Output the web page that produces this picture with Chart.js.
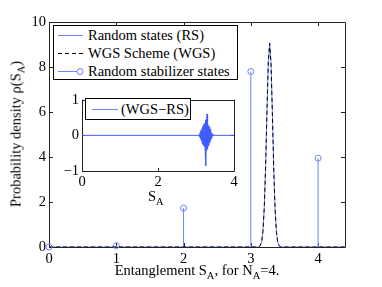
<!DOCTYPE html>
<html><head><meta charset="utf-8">
<script src="https://cdn.jsdelivr.net/npm/chart.js@4.4.0/dist/chart.umd.min.js"></script>
<style>
html,body{margin:0;padding:0;background:#fff;}
#wrap{position:relative;width:382px;height:287px;font-family:"Liberation Serif","Times New Roman",serif;color:#000;overflow:hidden;}
canvas{position:absolute;}
.t{position:absolute;white-space:nowrap;font-size:14.5px;line-height:15px;}
.t sub{font-size:10.5px;vertical-align:-4px;line-height:0;}
.box{position:absolute;border:1px solid #000;background:#fff;box-sizing:border-box;}
</style></head><body>
<div id="wrap">
<canvas id="main" width="382" height="287" style="left:0;top:0;width:382px;height:287px"></canvas>
<canvas id="inset" width="190" height="118" style="left:55px;top:88px;width:190px;height:118px"></canvas>

<div class="box" style="left:53px;top:25px;width:185px;height:55px;">
  <svg width="40" height="53" style="position:absolute;left:0;top:0">
    <line x1="4" y1="9.5" x2="29" y2="9.5" stroke="#6f84ff" stroke-width="1"/>
    <line x1="4" y1="27.5" x2="29" y2="27.5" stroke="#000" stroke-width="1" stroke-dasharray="4,3"/>
    <line x1="4" y1="45.5" x2="23" y2="45.5" stroke="#6f84ff" stroke-width="1"/>
    <circle cx="26" cy="45.5" r="3" fill="none" stroke="#6f84ff" stroke-width="1"/>
  </svg>
  <div class="t" style="left:34px;top:2px;">Random states (RS)</div>
  <div class="t" style="left:34px;top:20px;">WGS Scheme (WGS)</div>
  <div class="t" style="left:34px;top:38px;">Random stabilizer states</div>
</div>

<div class="box" style="left:85px;top:98px;width:106px;height:22px;">
  <svg width="40" height="20" style="position:absolute;left:0;top:0">
    <line x1="6" y1="10.5" x2="32" y2="10.5" stroke="#6f84ff" stroke-width="1"/>
  </svg>
  <div class="t" style="left:35px;top:3px;">(WGS−RS)</div>
</div>

<div class="t" style="left:148px;top:189px;">S<sub>A</sub></div>
<div class="t" id="xt" style="left:197px;top:263px;transform:translateX(-50%);">Entanglement S<sub>A</sub>, for N<sub>A</sub>=4.</div>
<div class="t" id="yt" style="left:16px;top:134px;transform:translate(-50%,-50%) rotate(-90deg);">Probability density ρ(S<sub>A</sub>)</div>
</div>

<script>
// ---- data ----
const stabX = [0, 1, 2, 3, 4];
const stabY = [0.0, 0.06, 1.73, 7.8, 3.95];

const curveX = [0, 3.08, 3.10, 3.12, 3.14, 3.16, 3.18, 3.20, 3.22, 3.24, 3.26, 3.28, 3.30, 3.32, 3.34, 3.36, 3.38, 3.40, 3.42, 3.44, 3.46, 3.48, 4.4];
const rsY    = [0, 0, 0.00, 0.01, 0.06, 0.22, 0.69, 1.74, 3.58, 6.01, 8.19, 9.08, 8.19, 6.01, 3.58, 1.74, 0.69, 0.22, 0.06, 0.01, 0.00, 0, 0];
const wgsY   = [0, 0, 0.00, 0.01, 0.06, 0.23, 0.70, 1.76, 3.60, 6.05, 8.22, 9.05, 8.15, 5.97, 3.55, 1.72, 0.68, 0.21, 0.06, 0.01, 0.00, 0, 0];

const diffX = [0, 3.08, 3.09, 3.10, 3.11, 3.12, 3.13, 3.14, 3.15, 3.16, 3.17, 3.18, 3.19, 3.20, 3.21, 3.22, 3.23, 3.24, 3.25, 3.26, 3.27, 3.28, 3.29, 3.30, 3.31, 3.32, 3.33, 3.34, 3.35, 3.36, 3.37, 3.38, 3.39, 3.40, 3.41, 3.42, 3.43, 3.44, 3.45, 3.46, 4];
const diffY = [0, 0.00, 0.03, -0.05, 0.08, -0.10, 0.13, -0.15, 0.18, -0.20, 0.23, -0.25, 0.27, -0.29, 0.31, -0.32, 0.34, -0.36, 0.42, -0.85, 0.45, -0.42, 0.60, -0.38, 0.33, -0.30, 0.28, -0.26, 0.23, -0.20, 0.17, -0.14, 0.12, -0.09, 0.07, -0.05, 0.03, -0.02, 0.01, 0.00, 0];

const mainXTicks = [0, 1, 2, 3, 4];
const mainYTicks = [0, 2, 4, 6, 8, 10];
const insetXTicks = [0, 2, 4];
const insetYTicks = [-1, 0, 1];

// ---- style ----
const BLUE = '#6f84ff';
const FONT = {family: '"Liberation Serif", "Times New Roman", serif', size: 14.5};
Chart.defaults.font = FONT;
Chart.defaults.color = '#000';

const zip = (xs, ys) => xs.map((x, i) => ({x, y: ys[i]}));

const framePlugin = {
  id: 'frame',
  beforeDatasetsDraw(chart, args, opts) {
    const {ctx, chartArea: a, scales} = chart;
    const L = opts.len || 4;
    ctx.save();
    ctx.strokeStyle = '#222';
    ctx.lineWidth = 1;
    ctx.beginPath();
    ctx.rect(Math.round(a.left) + 0.5, Math.round(a.top) + 0.5, Math.round(a.right - a.left), Math.round(a.bottom - a.top));
    scales.x.ticks.forEach(t => {
      const p = Math.round(scales.x.getPixelForValue(t.value)) + 0.5;
      ctx.moveTo(p, a.bottom); ctx.lineTo(p, a.bottom - L);
      ctx.moveTo(p, a.top); ctx.lineTo(p, a.top + L);
    });
    scales.y.ticks.forEach(t => {
      const p = Math.round(scales.y.getPixelForValue(t.value)) + 0.5;
      ctx.moveTo(a.left, p); ctx.lineTo(a.left + L, p);
      ctx.moveTo(a.right, p); ctx.lineTo(a.right - L, p);
    });
    ctx.stroke();
    ctx.restore();
  }
};

const whitePlugin = {
  id: 'whiteArea',
  beforeDraw(chart) {
    const {ctx, chartArea: a} = chart;
    ctx.save(); ctx.fillStyle = '#fff';
    ctx.fillRect(a.left, a.top, a.right - a.left, a.bottom - a.top);
    ctx.restore();
  }
};

const lineDs = (label, data, color, extra) => Object.assign({
  type: 'line', label, data, borderColor: color, backgroundColor: color,
  borderWidth: 1, pointRadius: 0, fill: false, tension: 0
}, extra || {});

const datasets = [
  lineDs('WGS Scheme (WGS)', zip(curveX, wgsY), '#000', {borderDash: [4, 3]}),
  lineDs('Random states (RS)', zip(curveX, rsY), BLUE),
  {type: 'scatter', label: 'Random stabilizer states', data: zip(stabX, stabY),
   pointRadius: 3, pointStyle: 'circle', borderColor: BLUE, backgroundColor: 'rgba(0,0,0,0)',
   borderWidth: 1, clip: false, showLine: false}
];
stabX.forEach((x, i) => datasets.push(lineDs('stem' + i, [{x, y: 0}, {x, y: stabY[i]}], BLUE)));

new Chart(document.getElementById('main'), {
  data: {datasets},
  plugins: [framePlugin],
  options: {
    responsive: false, animation: false, devicePixelRatio: 1,
    layout: {padding: {top: 22, right: 37, left: 0, bottom: 0}},
    plugins: {legend: {display: false}, tooltip: {enabled: false}, frame: {len: 4}},
    scales: {
      x: {type: 'linear', min: 0, max: 4.4,
          afterBuildTicks: s => { s.ticks = mainXTicks.map(v => ({value: v})); },
          ticks: {padding: 3, maxRotation: 0, autoSkip: false},
          grid: {display: false, drawTicks: false}, border: {display: false},
          afterFit: s => { s.height = 40; }},
      y: {type: 'linear', min: 0, max: 10,
          afterBuildTicks: s => { s.ticks = mainYTicks.map(v => ({value: v})); },
          ticks: {padding: 3, autoSkip: false},
          grid: {display: false, drawTicks: false}, border: {display: false},
          afterFit: s => { s.width = 49; }}
    }
  }
});

new Chart(document.getElementById('inset'), {
  data: {datasets: [lineDs('(WGS−RS)', zip(diffX, diffY), '#3f5cff')]},
  plugins: [whitePlugin, framePlugin],
  options: {
    responsive: false, animation: false, devicePixelRatio: 1,
    layout: {padding: {top: 7, right: 11, left: 0, bottom: 0}},
    plugins: {legend: {display: false}, tooltip: {enabled: false}, frame: {len: 3}},
    scales: {
      x: {type: 'linear', min: 0, max: 4,
          afterBuildTicks: s => { s.ticks = insetXTicks.map(v => ({value: v})); },
          ticks: {padding: 2, maxRotation: 0, autoSkip: false},
          grid: {display: false, drawTicks: false}, border: {display: false},
          afterFit: s => { s.height = 35; }},
      y: {type: 'linear', min: -1, max: 1,
          afterBuildTicks: s => { s.ticks = insetYTicks.map(v => ({value: v})); },
          ticks: {padding: 3, autoSkip: false, callback: v => v < 0 ? '−' + Math.abs(v) : String(v)},
          grid: {display: false, drawTicks: false}, border: {display: false},
          afterFit: s => { s.width = 27; }}
    }
  }
});
</script>
</body></html>
